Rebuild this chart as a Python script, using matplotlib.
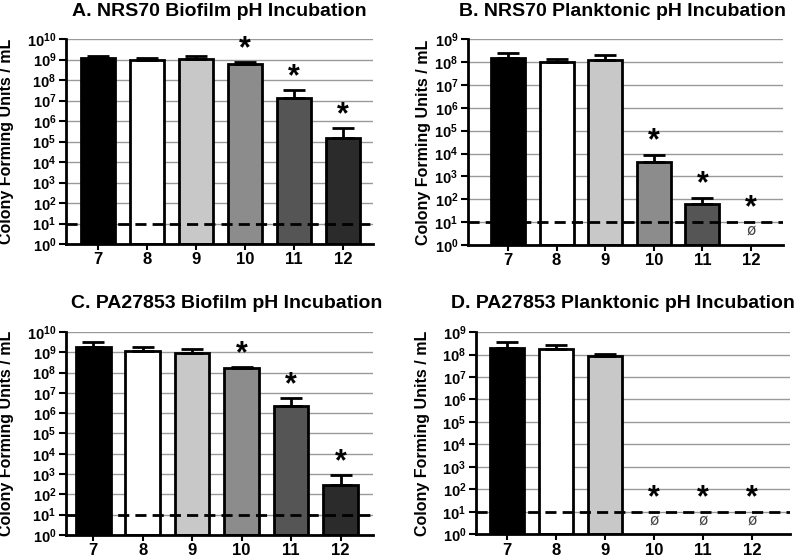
import matplotlib
matplotlib.use("Agg")
import matplotlib.pyplot as plt
import numpy as np
from matplotlib.ticker import FixedLocator, FuncFormatter

plt.rcParams['font.family'] = ['Liberation Sans', 'DejaVu Sans']
plt.rcParams['font.weight'] = 'bold'
plt.rcParams['mathtext.fontset'] = 'custom'
plt.rcParams['mathtext.rm'] = 'Liberation Sans:bold'
plt.rcParams['mathtext.bf'] = 'Liberation Sans:bold'
plt.rcParams['mathtext.it'] = 'Liberation Sans:bold'

ph_labels = ['7', '8', '9', '10', '11', '12']
bar_colors = ['#000000', '#ffffff', '#c8c8c8', '#8c8c8c', '#555555', '#2b2b2b']

titles = ['A. NRS70 Biofilm pH Incubation',
          'B. NRS70 Planktonic pH Incubation',
          'C. PA27853 Biofilm pH Incubation',
          'D. PA27853 Planktonic pH Incubation']

# mean CFU/mL (None = nothing recovered)
a_means = [1.23e9, 9.5e8, 1.1e9, 6.5e8, 1.3e7, 1.45e5]
a_tops = [1.44e9, 1.15e9, 1.6e9, 7.9e8, 3.2e7, 4.6e5]
b_means = [1.55e8, 1.0e8, 1.23e8, 4.4e3, 64, None]
b_tops = [2.4e8, 1.4e8, 2.1e8, 8.3e3, 110, None]
c_means = [1.8e9, 1.2e9, 9.5e8, 1.6e8, 2.2e6, 300]
c_tops = [3.1e9, 1.8e9, 1.4e9, 2.0e8, 5.7e6, 930]
d_means = [2.0e8, 1.7e8, 9.0e7, None, None, None]
d_tops = [3.5e8, 2.7e8, 1.1e8, None, None, None]

a_sig = [False, False, False, True, True, True]
b_sig = [False, False, False, True, True, True]
c_sig = [False, False, False, True, True, True]
d_sig = [False, False, False, True, True, True]

detection_limit = 10
ymax_exp = [10, 9, 10, 9]

panels = [(a_means, a_tops, a_sig), (b_means, b_tops, b_sig),
          (c_means, c_tops, c_sig), (d_means, d_tops, d_sig)]

# axes rectangles [left, bottom, width, height] in figure fraction
rects = [[0.0825, 0.564, 0.384, 0.366],
         [0.585, 0.5625, 0.394, 0.3675],
         [0.0825, 0.045, 0.384, 0.362],
         [0.595, 0.046, 0.3925, 0.361]]
xlims = [(-0.65, 5.61), (-0.82, 5.66), (-0.55, 5.66), (-0.63, 5.78)]
ylabel_x = [-0.169, -0.117, -0.169, -0.146]
title_x = [0.5, 0.489, 0.522, 0.468]

fig = plt.figure(figsize=(8, 5.6), dpi=100)

for i, (means, tops, sig) in enumerate(panels):
    ax = fig.add_axes(rects[i])
    x = np.arange(len(ph_labels))
    ymax = 10.0 ** ymax_exp[i]
    ax.set_yscale('log')
    ax.set_ylim(1, ymax)
    ax.set_xlim(*xlims[i])
    exps = list(range(0, ymax_exp[i] + 1))
    ax.yaxis.set_major_locator(FixedLocator([10.0 ** e for e in exps]))
    ax.yaxis.set_minor_locator(FixedLocator([]))
    ax.yaxis.set_major_formatter(FuncFormatter(
        lambda v, p: r'$10^{%d}$' % int(round(np.log10(v)))))
    for e in exps[1:]:
        ax.axhline(10.0 ** e, color='#9a9a9a', lw=1.0, zorder=0)

    for j in range(len(ph_labels)):
        m = means[j]
        if m is not None:
            ax.bar(x[j], m, width=0.7, bottom=1, color=bar_colors[j],
                   edgecolor='black', linewidth=2.0, zorder=2)
            ax.errorbar(x[j], m, yerr=[[0], [tops[j] - m]], fmt='none',
                        ecolor='black', elinewidth=2.0, capsize=8,
                        capthick=2.0, zorder=3)
            ref = tops[j]
        else:
            ax.text(x[j], 4.0, '\u00f8', ha='center', va='center',
                    fontsize=11, fontweight='normal', color='#444444',
                    family='DejaVu Sans', zorder=4)
            ref = 10.0
        if sig[j]:
            ax.text(x[j], ref * 10 ** 0.62, '*', ha='center', va='center',
                    fontsize=22, fontweight='bold', zorder=4)

    ax.axhline(detection_limit, color='black', lw=2.0, ls=(0, (4, 2.2)),
               zorder=5)

    ax.set_xticks(x)
    ax.set_xticklabels(ph_labels, fontsize=12, fontweight='bold')
    ax.tick_params(axis='x', length=4, width=1.5, pad=2)
    ax.tick_params(axis='y', length=5, width=1.5, labelsize=10.5, pad=2)
    for s in ['top', 'right']:
        ax.spines[s].set_visible(False)
    for s in ['left', 'bottom']:
        ax.spines[s].set_linewidth(2.0)
    ax.set_ylabel('Colony Forming Units / mL', fontsize=11.5,
                  fontweight='bold')
    ax.yaxis.set_label_coords(ylabel_x[i], 0.5)
    ax.set_title(titles[i], fontsize=14, fontweight='bold', pad=17,
                 x=title_x[i])

fig.savefig('out.png', dpi=100)
